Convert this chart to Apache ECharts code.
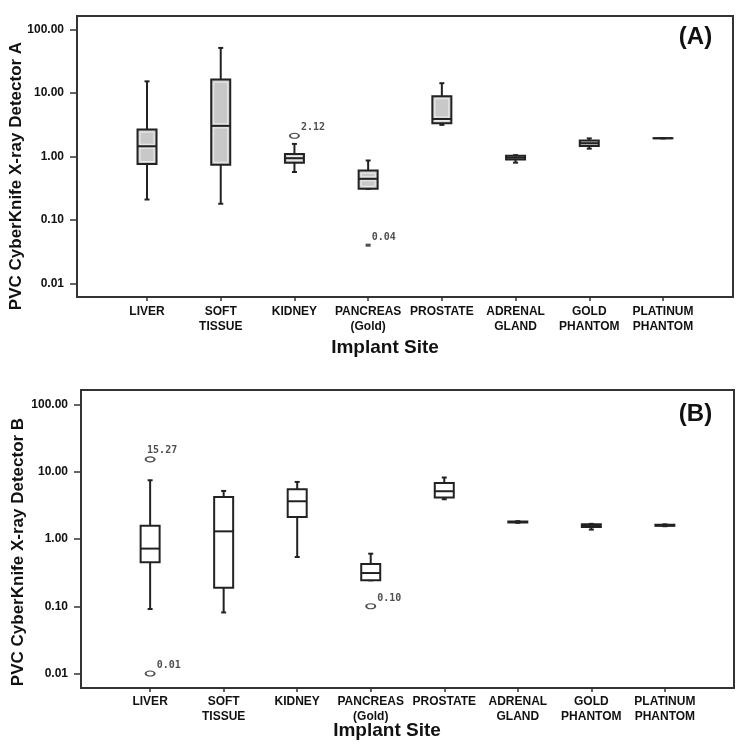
<!DOCTYPE html>
<html><head><meta charset="utf-8">
<script src="https://cdn.jsdelivr.net/npm/echarts@6/dist/echarts.min.js"></script>
<style>html,body{margin:0;padding:0;background:#fff}#c{width:742px;height:745px}</style>
</head><body><div id="c"></div>
<script>
const categories = ['LIVER', 'SOFT\nTISSUE', 'KIDNEY', 'PANCREAS\n(Gold)', 'PROSTATE', 'ADRENAL\nGLAND', 'GOLD\nPHANTOM', 'PLATINUM\nPHANTOM'];
const yTicks = [0.01, 0.1, 1, 10, 100];
// each row: [min, Q1, median, Q3, max]
const boxesA = [
  [0.21, 0.76, 1.45, 2.66, 15.3],
  [0.18, 0.74, 3.04, 16.3, 51.5],
  [0.57, 0.80, 0.94, 1.10, 1.58],
  [0.31, 0.31, 0.445, 0.60, 0.865],
  [3.15, 3.35, 3.9, 8.9, 14.3],
  [0.80, 0.90, 0.96, 1.03, 1.05],
  [1.33, 1.47, 1.62, 1.79, 1.93],
  [1.94, 1.94, 1.94, 1.94, 1.94]
];
const outliersA = [[2, 2.12], [3, 0.04]];
const boxesB = [
  [0.091, 0.45, 0.72, 1.58, 7.47],
  [0.081, 0.189, 1.30, 4.22, 5.18],
  [0.54, 2.12, 3.64, 5.5, 7.05],
  [0.243, 0.243, 0.312, 0.425, 0.605],
  [3.9, 4.13, 5.13, 6.8, 8.2],
  [1.74, 1.76, 1.79, 1.82, 1.84],
  [1.38, 1.51, 1.60, 1.66, 1.68],
  [1.55, 1.57, 1.60, 1.63, 1.65]
];
const outliersB = [[0, 15.27], [0, 0.01], [3, 0.10]];

const INK = '#222';
const FONT = '"Liberation Sans", Arial, sans-serif';
const ellipse = 'path://M0,3A5,3,0,1,1,10,3A5,3,0,1,1,0,3Z';

function boxRenderer(fill, inner) {
  return function (params, api) {
    const x = api.value(0);
    const p = [1, 2, 3, 4, 5].map(i => api.coord([x, api.value(i)]));
    const cx = p[0][0];
    const yMin = p[0][1], yQ1 = p[1][1], yMed = p[2][1], yQ3 = p[3][1], yMax = p[4][1];
    const w = 19, cap = 5;
    const ls = { stroke: INK, lineWidth: 2 };
    const ch = [];
    if (yMax < yQ3 - 0.5) ch.push({ type: 'line', shape: { x1: cx, y1: yQ3, x2: cx, y2: yMax }, style: ls });
    if (yMin > yQ1 + 0.5) ch.push({ type: 'line', shape: { x1: cx, y1: yQ1, x2: cx, y2: yMin }, style: ls });
    ch.push({ type: 'line', shape: { x1: cx - cap / 2, y1: yMax, x2: cx + cap / 2, y2: yMax }, style: ls });
    ch.push({ type: 'line', shape: { x1: cx - cap / 2, y1: yMin, x2: cx + cap / 2, y2: yMin }, style: ls });
    const h = Math.max(yQ1 - yQ3, 0.01);
    ch.push({ type: 'rect', shape: { x: cx - w / 2, y: yQ3, width: w, height: h }, style: { fill: fill, stroke: INK, lineWidth: 2 } });
    if (inner && h > 7) {
      ch.push({ type: 'rect', shape: { x: cx - w / 2 + 2.5, y: yQ3 + 2.5, width: w - 5, height: h - 5 }, style: { fill: 'none', stroke: '#eeeeee', lineWidth: 1 } });
      ch.push({ type: 'line', shape: { x1: cx - w / 2 + 2.5, y1: yMed - 2, x2: cx + w / 2 - 2.5, y2: yMed - 2 }, style: { stroke: '#eeeeee', lineWidth: 1 } });
      ch.push({ type: 'line', shape: { x1: cx - w / 2 + 2.5, y1: yMed + 2, x2: cx + w / 2 - 2.5, y2: yMed + 2 }, style: { stroke: '#eeeeee', lineWidth: 1 } });
    }
    ch.push({ type: 'line', shape: { x1: cx - w / 2, y1: yMed, x2: cx + w / 2, y2: yMed }, style: ls });
    return { type: 'group', children: ch };
  };
}

function xAxisFor(gi, lo, hi) {
  const ticks = categories.map((c, i) => i);
  return {
    type: 'value', gridIndex: gi, min: lo, max: hi,
    splitLine: { show: false },
    axisLine: { show: false, onZero: false },
    axisTick: { show: true, customValues: ticks, length: 4, lineStyle: { color: '#333', width: 1.5 } },
    axisLabel: {
      customValues: ticks, formatter: v => categories[Math.round(v)],
      margin: gi === 0 ? 7 : 6, color: '#111', fontFamily: FONT, fontWeight: 'bold', fontSize: 12, lineHeight: 15
    }
  };
}
function yAxisFor(gi) {
  return {
    type: 'log', logBase: 10, gridIndex: gi, min: 0.0061, max: 164,
    splitLine: { show: false },
    axisLine: { show: false, onZero: false },
    axisTick: { show: true, customValues: yTicks, length: 7, lineStyle: { color: '#333', width: 1.5 } },
    axisLabel: {
      customValues: yTicks, formatter: v => Number(v).toFixed(2),
      margin: 13, color: '#111', fontFamily: FONT, fontWeight: 'bold', fontSize: 12
    }
  };
}
function outlierSeries(gi, pts) {
  return {
    type: 'scatter', xAxisIndex: gi, yAxisIndex: gi, z: 5,
    data: pts.map(p => {
      const star = p[1] < 0.05 && gi === 0;
      const item = {
        value: p,
        symbol: star ? 'rect' : ellipse,
        symbolSize: star ? [5, 3] : [9, 5],
        itemStyle: star ? { color: INK } : { color: '#fff', borderColor: INK, borderWidth: 1.5 }
      };
      if (p[1] > 10) item.label = { position: 'top', offset: [12, 0] };
      return item;
    }),
    label: {
      show: true, formatter: p => p.value[1].toFixed(2), position: 'right', distance: 1, offset: [0, -8],
      fontFamily: '"DejaVu Sans Mono", monospace', fontWeight: 'bold', fontSize: 10, color: INK
    }
  };
}

const txt = (text, x, y, size, rot) => ({
  type: 'text', x: x, y: y, rotation: rot || 0, z: 10,
  style: { text: text, font: 'bold ' + size + 'px ' + FONT, fill: '#111', align: 'center', verticalAlign: 'middle', textAlign: 'center', textVerticalAlign: 'middle' }
});

const chart = echarts.init(document.getElementById('c'), null, { renderer: 'canvas' });
chart.setOption({
  animation: false,
  backgroundColor: '#fff',
  grid: [
    { left: 77, right: 9, top: 16, bottom: 448, show: true, borderColor: '#333', borderWidth: 2, backgroundColor: 'transparent' },
    { left: 81, right: 8, top: 390, bottom: 57, show: true, borderColor: '#333', borderWidth: 2, backgroundColor: 'transparent' }
  ],
  xAxis: [xAxisFor(0, -0.95, 7.95), xAxisFor(1, -0.94, 7.94)],
  yAxis: [yAxisFor(0), yAxisFor(1)],
  series: [
    { type: 'custom', xAxisIndex: 0, yAxisIndex: 0, renderItem: boxRenderer('#c8c8c8', true),
      encode: { x: 0, y: [1, 2, 3, 4, 5] }, data: boxesA.map((b, i) => [i].concat(b)) },
    outlierSeries(0, outliersA),
    { type: 'custom', xAxisIndex: 1, yAxisIndex: 1, renderItem: boxRenderer('#ffffff', false),
      encode: { x: 0, y: [1, 2, 3, 4, 5] }, data: boxesB.map((b, i) => [i].concat(b)) },
    outlierSeries(1, outliersB)
  ],
  graphic: [
    txt('PVC CyberKnife X-ray Detector A', 16, 176, 17, Math.PI / 2),
    txt('PVC CyberKnife X-ray Detector B', 18.5, 552, 17, Math.PI / 2),
    txt('Implant Site', 385, 348, 19),
    txt('Implant Site', 387, 731, 19),
    txt('(A)', 695.5, 37, 24),
    txt('(B)', 695.5, 414, 24)
  ]
});
</script></body></html>
